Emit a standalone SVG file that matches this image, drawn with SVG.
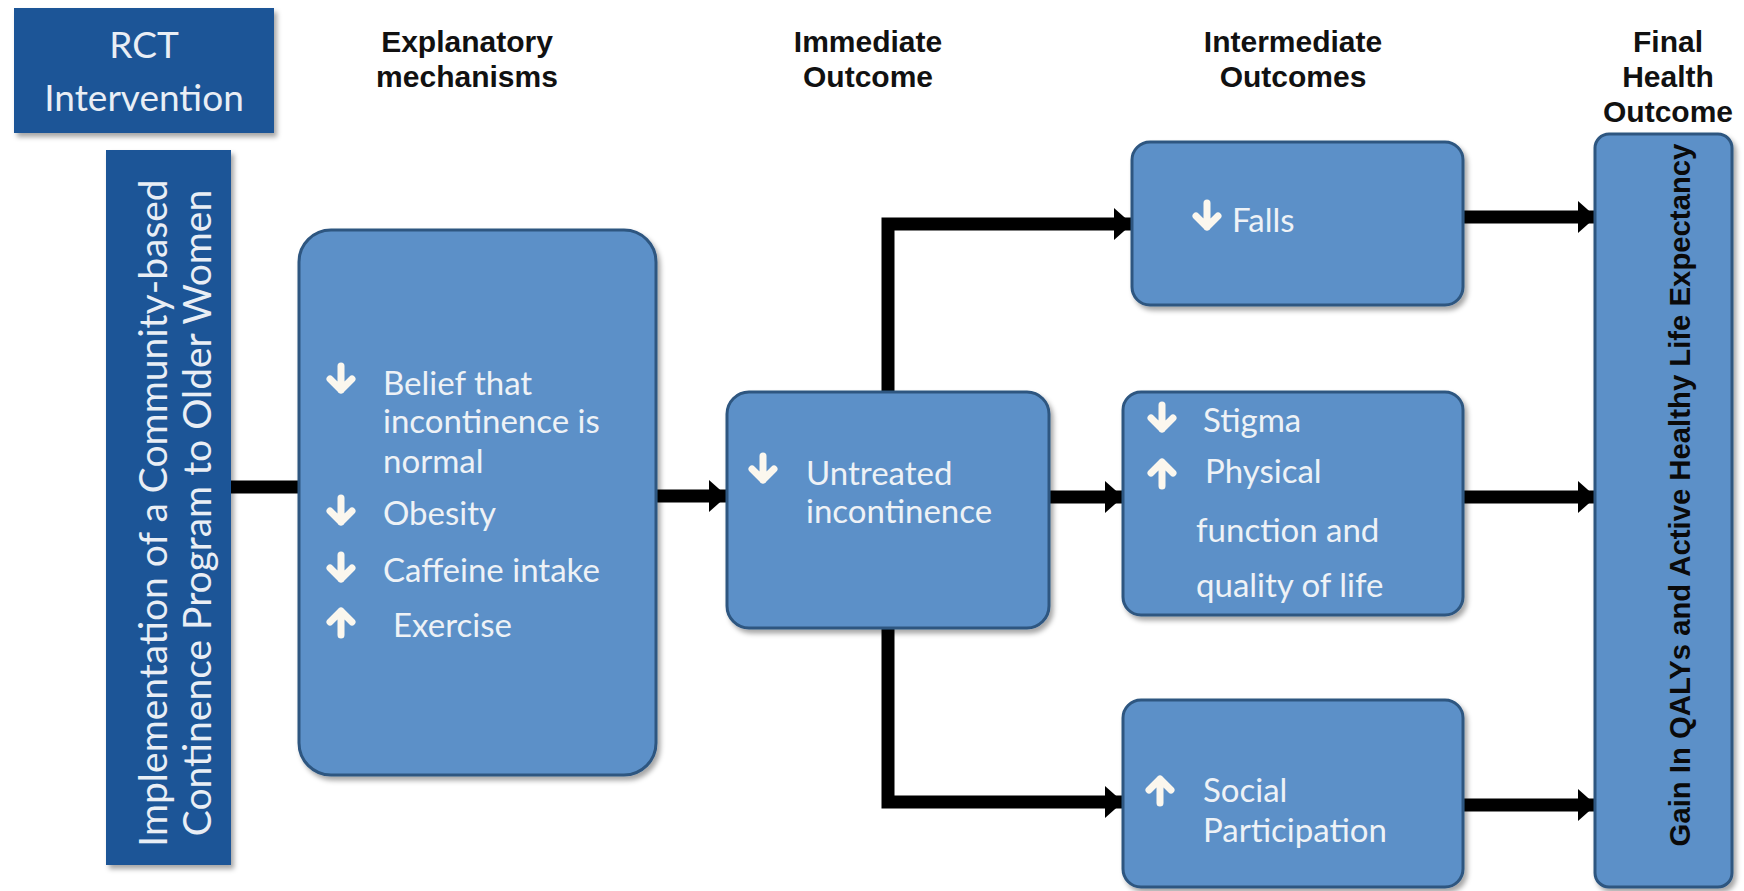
<svg xmlns="http://www.w3.org/2000/svg" width="1744" height="891" viewBox="0 0 1744 891">
<style>
.hdr{font-family:"Liberation Sans",Arial,sans-serif;font-weight:bold;font-size:30px;fill:#111;text-anchor:middle}
.dark{fill:#1D5597}
.box{fill:#5C90C8;stroke:#2D5680;stroke-width:3}
.lt{font-family:Lato,"Open Sans",sans-serif;font-size:33px;fill:#EEF2F6}
.big{font-family:Lato,"Open Sans",sans-serif;fill:#E9EEF5;text-anchor:middle}
.fin{font-family:"Liberation Sans",Arial,sans-serif;font-weight:bold;font-size:29.3px;fill:#0A0A0A;text-anchor:middle}
.ln{fill:none;stroke:#000;stroke-width:13}
</style>
<defs>
<filter id="sh" x="-10%" y="-10%" width="130%" height="130%">
<feDropShadow dx="3" dy="4" stdDeviation="2.5" flood-color="#000" flood-opacity="0.35"/>
</filter>
<marker id="ah" viewBox="0 0 18 32" refX="18" refY="16" markerWidth="18" markerHeight="32" markerUnits="userSpaceOnUse" orient="auto">
<path d="M0,0 L18,16 L0,32 Z" fill="#000"/>
</marker>
<g id="dn"><path d="M14,2 L14,26 M3,15 L14,26 L25,15" fill="none" stroke="#FBF7EE" stroke-width="7" stroke-linecap="round" stroke-linejoin="round"/></g>
<g id="up"><path d="M14,28 L14,4 M3,15 L14,4 L25,15" fill="none" stroke="#FBF7EE" stroke-width="7" stroke-linecap="round" stroke-linejoin="round"/></g>
</defs>
<rect width="1744" height="891" fill="#fff"/>

<g id="headers">
<text class="hdr" x="467" y="52">Explanatory</text>
<text class="hdr" x="467" y="87">mechanisms</text>
<text class="hdr" x="868" y="52">Immediate</text>
<text class="hdr" x="868" y="87">Outcome</text>
<text class="hdr" x="1293" y="52">Intermediate</text>
<text class="hdr" x="1293" y="87">Outcomes</text>
<text class="hdr" x="1668" y="52">Final</text>
<text class="hdr" x="1668" y="87">Health</text>
<text class="hdr" x="1668" y="122">Outcome</text>
</g>

<g id="connectors">
<line class="ln" x1="229" y1="487" x2="300" y2="487"/>
<line class="ln" x1="656" y1="496" x2="727" y2="496" marker-end="url(#ah)"/>
<line class="ln" x1="1049" y1="497" x2="1123" y2="497" marker-end="url(#ah)"/>
<path class="ln" d="M888,393 L888,224 L1132,224" stroke-linejoin="miter" marker-end="url(#ah)"/>
<path class="ln" d="M888,627 L888,802 L1123,802" stroke-linejoin="miter" marker-end="url(#ah)"/>
<line class="ln" x1="1462" y1="217" x2="1596" y2="217" marker-end="url(#ah)"/>
<line class="ln" x1="1462" y1="497" x2="1596" y2="497" marker-end="url(#ah)"/>
<line class="ln" x1="1462" y1="805" x2="1596" y2="805" marker-end="url(#ah)"/>
</g>

<g id="rct">
<rect class="dark" x="14" y="8" width="260" height="125" filter="url(#sh)"/>
<text class="big" x="144" y="58" font-size="37">RCT</text>
<text class="big" x="144" y="111" font-size="37">Intervention</text>
</g>

<g id="intervention">
<rect class="dark" x="106" y="150" width="125" height="715" filter="url(#sh)"/>
<text class="big" font-size="39" transform="translate(167,513) rotate(-90)">Implementation of a Community-based</text>
<text class="big" font-size="39" transform="translate(211,513) rotate(-90)">Continence Program to Older Women</text>
</g>

<g id="mechanisms">
<rect class="box" x="299" y="230" width="357" height="545" rx="32" filter="url(#sh)"/>
<use href="#dn" x="327" y="364"/>
<text class="lt" x="383" y="395">Belief that</text>
<text class="lt" x="383" y="433">incontinence is</text>
<text class="lt" x="383" y="473">normal</text>
<use href="#dn" x="327" y="496"/>
<text class="lt" x="383" y="525">Obesity</text>
<use href="#dn" x="327" y="553"/>
<text class="lt" x="383" y="582">Caffeine intake</text>
<use href="#up" x="327" y="607"/>
<text class="lt" x="393" y="637">Exercise</text>
</g>

<g id="immediate">
<rect class="box" x="727" y="392" width="322" height="236" rx="22" filter="url(#sh)"/>
<use href="#dn" x="749" y="454"/>
<text class="lt" x="806" y="485">Untreated</text>
<text class="lt" x="806" y="523">incontinence</text>
</g>

<g id="falls">
<rect class="box" x="1132" y="142" width="331" height="163" rx="18" filter="url(#sh)"/>
<use href="#dn" x="1193" y="201"/>
<text class="lt" x="1232" y="232">Falls</text>
</g>

<g id="stigma">
<rect class="box" x="1123" y="392" width="340" height="223" rx="18" filter="url(#sh)"/>
<use href="#dn" x="1148" y="403"/>
<text class="lt" x="1203" y="432">Stigma</text>
<use href="#up" x="1148" y="458"/>
<text class="lt" x="1205" y="483">Physical</text>
<text class="lt" x="1196" y="542">function and</text>
<text class="lt" x="1196" y="597">quality of life</text>
</g>

<g id="social">
<rect class="box" x="1123" y="700" width="340" height="187" rx="18" filter="url(#sh)"/>
<use href="#up" x="1146" y="775"/>
<text class="lt" x="1203" y="802">Social</text>
<text class="lt" x="1203" y="842">Participation</text>
</g>

<g id="final">
<rect class="box" x="1595" y="134" width="137" height="753" rx="14" filter="url(#sh)"/>
<text class="fin" transform="translate(1690,495) rotate(-90)">Gain In QALYs and Active Healthy Life Expectancy</text>
</g>
</svg>
